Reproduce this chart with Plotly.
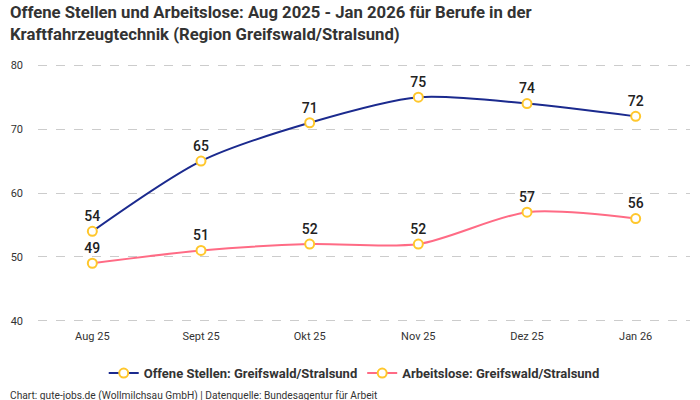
import plotly.graph_objects as go

months = ["Aug 25", "Sept 25", "Okt 25", "Nov 25", "Dez 25", "Jan 26"]
offene_stellen = [54, 65, 71, 75, 74, 72]
arbeitslose = [49, 51, 52, 52, 57, 56]

font_main = "Roboto, Noto Sans, sans-serif"

fig = go.Figure()

def add_line(values, name, color):
    fig.add_trace(go.Scatter(
        x=months, y=values, name=name,
        mode="lines+markers+text",
        line=dict(color=color, width=2, shape="spline", smoothing=0.8),
        marker=dict(size=9, color="white", line=dict(color="#FFC72C", width=2)),
        text=[str(v) for v in values],
        textposition="top center",
        textfont=dict(size=14, color="#222222", family="Roboto Medium, Roboto, sans-serif"),
        cliponaxis=False,
    ))

add_line(offene_stellen, "<b>Offene Stellen: Greifswald/Stralsund</b>", "#1b2a8e")
add_line(arbeitslose, "<b>Arbeitslose: Greifswald/Stralsund</b>", "#ff6b85")

fig.update_layout(
    width=700, height=400,
    margin=dict(l=38, r=10, t=64, b=78, autoexpand=False),
    paper_bgcolor="white", plot_bgcolor="white",
    font=dict(family=font_main, color="#333333"),
    legend=dict(
        orientation="h", x=0.485, xanchor="center", y=-0.14, yanchor="top",
        font=dict(size=13, color="#333333"),
    ),
    showlegend=True,
)

# title as paper annotation so it stays put
fig.add_annotation(
    text="<b>Offene Stellen und Arbeitslose: Aug 2025 - Jan 2026 für Berufe in der<br>Kraftfahrzeugtechnik (Region Greifswald/Stralsund)</b>",
    xref="paper", yref="paper", x=-0.046, y=1.244, xanchor="left", yanchor="top",
    align="left", showarrow=False, font=dict(size=16.7, color="#333333"),
)

fig.update_xaxes(
    type="category", range=[-0.5, 5.5], showgrid=False, showline=False,
    ticks="", ticklabelstandoff=6, tickfont=dict(size=11, color="#333333"),
)
fig.update_yaxes(
    range=[39.8, 80.2], tickvals=[40, 50, 60, 70, 80], showgrid=True,
    gridcolor="#cccccc", griddash="dash", gridwidth=1, zeroline=False,
    showline=False, tickfont=dict(size=11, color="#333333"), ticklabelstandoff=14,
)

fig.add_annotation(
    text="Chart: gute-jobs.de (Wollmilchsau GmbH) | Datenquelle: Bundesagentur für Arbeit",
    xref="paper", yref="paper", x=-0.046, y=-0.254, xanchor="left", yanchor="top",
    showarrow=False, font=dict(size=10.2, color="#333333"),
)

# drop the default body margin so the figure sits at the page corner
fig.write_html("out.html", config={"displayModeBar": False},
               post_script="document.body.style.margin='0';")
